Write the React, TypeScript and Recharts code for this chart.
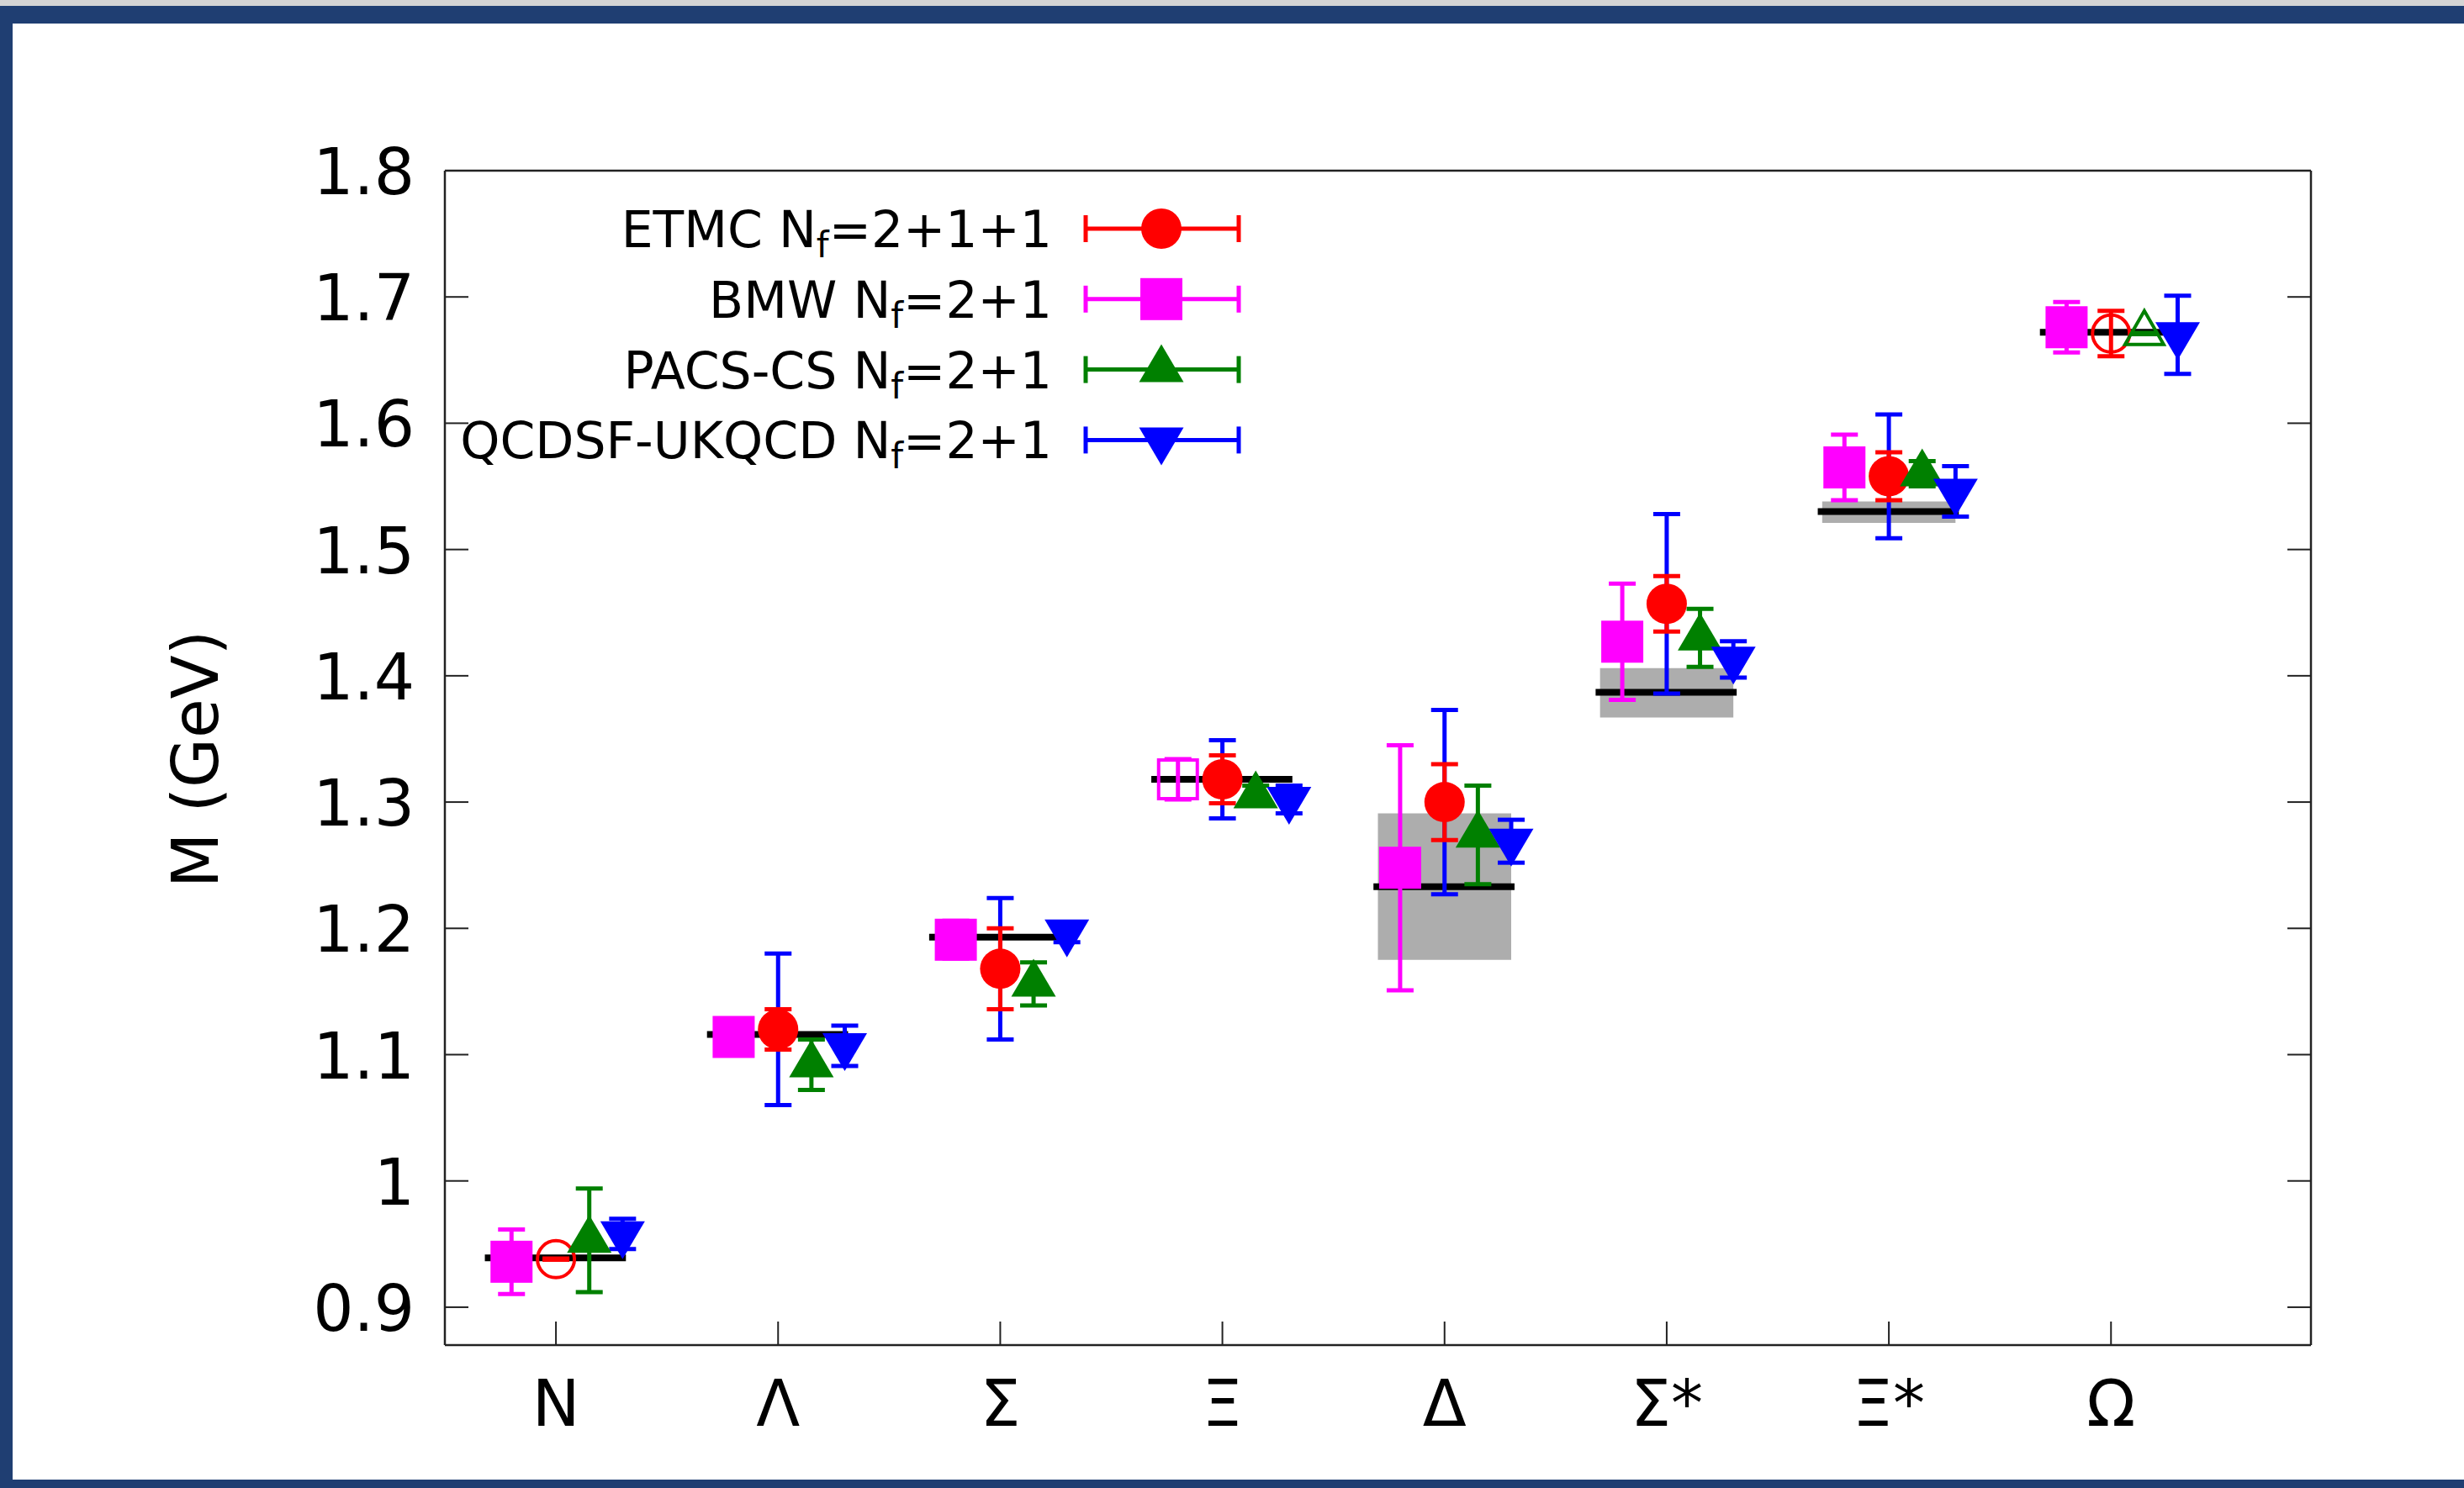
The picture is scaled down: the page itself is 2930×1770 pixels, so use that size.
import React from 'react';
import { ComposedChart, Scatter, XAxis, YAxis, ErrorBar, ReferenceLine, ReferenceArea, Legend } from 'recharts';

// ---------- data ----------
const categories = ['N', 'Λ', 'Σ', 'Ξ', 'Δ', 'Σ*', 'Ξ*', 'Ω'];
const yTicks = [0.9, 1.0, 1.1, 1.2, 1.3, 1.4, 1.5, 1.6, 1.7, 1.8];

const experiment = [0.939, 1.116, 1.193, 1.318, 1.233, 1.387, 1.530, 1.672];
const bandLow = [null, null, null, null, 1.175, 1.367, 1.521, null];
const bandHigh = [null, null, null, null, 1.291, 1.406, 1.538, null];

const etmcMass = [0.938, 1.120, 1.168, 1.318, 1.300, 1.457, 1.558, 1.671];
const etmcStat = [0.0005, 0.016, 0.032, 0.019, 0.030, 0.022, 0.019, 0.018];
const etmcTotal = [null, 0.060, 0.056, 0.031, 0.073, 0.071, 0.049, null];
const etmcOpen = [true, false, false, false, false, false, false, true];

const bmwMass = [0.936, 1.114, 1.191, 1.318, 1.248, 1.427, 1.565, 1.676];
const bmwErr = [0.0255, 0.010, 0.015, 0.016, 0.097, 0.046, 0.026, 0.020];
const bmwOpen = [false, false, false, true, false, false, false, false];

const pacsMass = [0.953, 1.092, 1.156, 1.305, 1.274, 1.430, 1.560, 1.671];
const pacsErr = [0.041, 0.020, 0.017, 0.008, 0.039, 0.023, 0.010, 0.0005];
const pacsOpen = [false, false, false, false, false, false, false, true];

const qcdsfMass = [0.958, 1.107, 1.197, 1.302, 1.269, 1.413, 1.546, 1.670];
const qcdsfErr = [0.012, 0.016, 0.008, 0.011, 0.017, 0.0144, 0.020, 0.031];

// ---------- styling ----------
const W = 2930;
const H = 1770;
const FONT = '"DejaVu Sans", Verdana, sans-serif';
const BLUE_FRAME = '#1f3e72';
const RED = '#ff0000';
const MAGENTA = '#ff00ff';
const GREEN = '#008000';
const BLUE = '#0000ff';
const AXIS = '#222222';
const EB = 5;

const OFF = { etmc: 0, bmw: -0.2, pacs: 0.15, qcdsf: 0.3 };

const etmcData = categories.map((c, i) => ({ x: i + 1 + OFF.etmc, y: etmcMass[i], stat: etmcStat[i], total: etmcTotal[i], open: etmcOpen[i] }));
const bmwData = categories.map((c, i) => ({ x: i + 1 + OFF.bmw, y: bmwMass[i], err: bmwErr[i], open: bmwOpen[i] }));
const pacsData = categories.map((c, i) => ({ x: i + 1 + OFF.pacs, y: pacsMass[i], err: pacsErr[i], open: pacsOpen[i] }));
const qcdsfData = categories.map((c, i) => ({ x: i + 1 + OFF.qcdsf, y: qcdsfMass[i], err: qcdsfErr[i], open: false }));

type Kind = 'circle' | 'square' | 'up' | 'down';

function marker(kind: Kind, color: string, cx: number, cy: number, open: boolean) {
  const sw = 4;
  if (kind === 'circle') {
    return open
      ? <circle cx={cx} cy={cy} r={22} fill="none" stroke={color} strokeWidth={sw} />
      : <circle cx={cx} cy={cy} r={24} fill={color} />;
  }
  if (kind === 'square') {
    return open
      ? <rect x={cx - 23} y={cy - 23} width={46} height={46} fill="none" stroke={color} strokeWidth={sw} />
      : <rect x={cx - 25} y={cy - 25} width={50} height={50} fill={color} />;
  }
  if (kind === 'up') {
    const pts = open
      ? `${cx},${cy - 27} ${cx - 23},${cy + 13} ${cx + 23},${cy + 13}`
      : `${cx},${cy - 30} ${cx - 26.5},${cy + 15} ${cx + 26.5},${cy + 15}`;
    return open
      ? <polygon points={pts} fill="none" stroke={color} strokeWidth={sw} strokeLinejoin="miter" />
      : <polygon points={pts} fill={color} />;
  }
  const pts = `${cx},${cy + 30} ${cx - 26.5},${cy - 15} ${cx + 26.5},${cy - 15}`;
  return <polygon points={pts} fill={color} />;
}

const makeShape = (kind: Kind, color: string) => (props: any) => {
  const { cx, cy, payload } = props;
  if (cx == null || cy == null) return <g />;
  return marker(kind, color, cx, cy, !!(payload && payload.open));
};

// ---------- ticks ----------
const fmtY = (v: number) => String(Math.round(v * 10) / 10);

function BottomTick(props: any) {
  const { x, y, payload } = props;
  return (
    <g>
      <line x1={x} y1={y} x2={x} y2={y - 28} stroke={AXIS} strokeWidth={2} />
      <text x={x} y={y + 96} textAnchor="middle" fontSize={76} fontFamily={FONT} fill="#000">
        {categories[Math.round(payload.value) - 1]}
      </text>
    </g>
  );
}
function TopTick(props: any) {
  const { x, y } = props;
  return <line x1={x} y1={y} x2={x} y2={y + 28} stroke={AXIS} strokeWidth={2} />;
}
function LeftTick(props: any) {
  const { x, y, payload } = props;
  return (
    <g>
      <line x1={x} y1={y} x2={x + 28} y2={y} stroke={AXIS} strokeWidth={2} />
      <text x={x - 36} y={y + 28} textAnchor="end" fontSize={76} fontFamily={FONT} fill="#000">
        {fmtY(payload.value)}
      </text>
    </g>
  );
}
function RightTick(props: any) {
  const { x, y } = props;
  return <line x1={x} y1={y} x2={x - 28} y2={y} stroke={AXIS} strokeWidth={2} />;
}

// ---------- legend ----------
const legendRows: { name: string; nf: string; color: string; kind: Kind }[] = [
  { name: 'ETMC', nf: '2+1+1', color: RED, kind: 'circle' },
  { name: 'BMW', nf: '2+1', color: MAGENTA, kind: 'square' },
  { name: 'PACS-CS', nf: '2+1', color: GREEN, kind: 'up' },
  { name: 'QCDSF-UKQCD', nf: '2+1', color: BLUE, kind: 'down' },
];

function LegendContent() {
  return (
    <svg width={1500} height={620} style={{ overflow: 'visible' }}>
      {legendRows.map((r, k) => {
        const cy = 272 + k * 83.8;
        return (
          <g key={r.name}>
            <text x={1251} y={cy + 22} textAnchor="end" fontSize={60} fontFamily={FONT} fill="#000">
              {r.name} N<tspan dy={12} fontSize={42}>f</tspan><tspan dy={-12}>={r.nf}</tspan>
            </text>
            <line x1={1291} x2={1473} y1={cy} y2={cy} stroke={r.color} strokeWidth={EB} />
            <line x1={1291} x2={1291} y1={cy - 16} y2={cy + 16} stroke={r.color} strokeWidth={EB} />
            <line x1={1473} x2={1473} y1={cy - 16} y2={cy + 16} stroke={r.color} strokeWidth={EB} />
            {marker(r.kind, r.color, 1381, cy, false)}
          </g>
        );
      })}
    </svg>
  );
}

function YLabel() {
  return (
    <text x={232} y={903} transform="rotate(-90 232 903)" textAnchor="middle" dominantBaseline="central"
      fontSize={76} fontFamily={FONT} fill="#000">M (GeV)</text>
  );
}

export default function App() {
  const xTicks = categories.map((c, i) => i + 1);
  return (
    <div style={{ position: 'absolute', left: 0, top: 0, width: W, height: H, background: '#ffffff', overflow: 'hidden', fontFamily: FONT }}>
      <div style={{ position: 'absolute', left: 0, top: 0, width: W, height: 7, background: '#d4d4d4' }} />
      <div style={{ position: 'absolute', left: 0, top: 7, width: W, height: 21, background: BLUE_FRAME }} />
      <div style={{ position: 'absolute', left: 0, top: 7, width: 15, height: H, background: BLUE_FRAME }} />
      <div style={{ position: 'absolute', left: 0, top: 1760, width: W, height: 10, background: BLUE_FRAME }} />
      <div style={{ position: 'absolute', left: 0, top: 0 }}>
        <ComposedChart width={W} height={H} margin={{ top: 202, right: 181, bottom: 169, left: 528 }}>
          <XAxis xAxisId="x" type="number" dataKey="x" domain={[0.5, 8.9]} allowDataOverflow ticks={xTicks}
            orientation="bottom" height={1} tickSize={0} tickMargin={0} tickLine={false} interval={0}
            axisLine={{ stroke: AXIS, strokeWidth: 2.5 }} tick={<BottomTick />} />
          <XAxis xAxisId="xt" type="number" domain={[0.5, 8.9]} allowDataOverflow ticks={xTicks}
            orientation="top" height={1} tickSize={0} tickMargin={0} tickLine={false} interval={0}
            axisLine={{ stroke: AXIS, strokeWidth: 2.5 }} tick={<TopTick />} />
          <YAxis yAxisId="y" type="number" dataKey="y" domain={[0.87, 1.8]} allowDataOverflow ticks={yTicks}
            orientation="left" width={1} tickSize={0} tickMargin={0} tickLine={false} interval={0}
            axisLine={{ stroke: AXIS, strokeWidth: 2.5 }} tick={<LeftTick />}
            label={{ content: () => <YLabel /> }} />
          <YAxis yAxisId="yr" type="number" domain={[0.87, 1.8]} allowDataOverflow ticks={yTicks}
            orientation="right" width={1} tickSize={0} tickMargin={0} tickLine={false} interval={0}
            axisLine={{ stroke: AXIS, strokeWidth: 2.5 }} tick={<RightTick />} />

          {categories.map((c, i) =>
            bandLow[i] != null ? (
              <ReferenceArea key={'band' + c} xAxisId="x" yAxisId="y" x1={i + 1 - 0.3} x2={i + 1 + 0.3}
                y1={bandLow[i] as number} y2={bandHigh[i] as number} fill="#adadad" fillOpacity={1} stroke="none" ifOverflow="visible" />
            ) : null
          )}
          {categories.map((c, i) => (
            <ReferenceLine key={'exp' + c} xAxisId="x" yAxisId="y" ifOverflow="visible"
              segment={[{ x: i + 1 - 0.32, y: experiment[i] }, { x: i + 1 + 0.315, y: experiment[i] }]}
              stroke="#000" strokeWidth={8} />
          ))}

          <Scatter name="ETMC" xAxisId="x" yAxisId="y" data={etmcData} dataKey="y" isAnimationActive={false} shape={makeShape('circle', RED)}>
            <ErrorBar dataKey="total" direction="y" width={16} stroke={BLUE} strokeWidth={EB} isAnimationActive={false} />
            <ErrorBar dataKey="stat" direction="y" width={16} stroke={RED} strokeWidth={EB} isAnimationActive={false} />
          </Scatter>
          <Scatter name="BMW" xAxisId="x" yAxisId="y" data={bmwData} dataKey="y" isAnimationActive={false} shape={makeShape('square', MAGENTA)}>
            <ErrorBar dataKey="err" direction="y" width={16} stroke={MAGENTA} strokeWidth={EB} isAnimationActive={false} />
          </Scatter>
          <Scatter name="PACS-CS" xAxisId="x" yAxisId="y" data={pacsData} dataKey="y" isAnimationActive={false} shape={makeShape('up', GREEN)}>
            <ErrorBar dataKey="err" direction="y" width={16} stroke={GREEN} strokeWidth={EB} isAnimationActive={false} />
          </Scatter>
          <Scatter name="QCDSF-UKQCD" xAxisId="x" yAxisId="y" data={qcdsfData} dataKey="y" isAnimationActive={false} shape={makeShape('down', BLUE)}>
            <ErrorBar dataKey="err" direction="y" width={16} stroke={BLUE} strokeWidth={EB} isAnimationActive={false} />
          </Scatter>

          <Legend layout="vertical" align="center" verticalAlign="middle" content={() => <LegendContent />}
            wrapperStyle={{ left: 0, top: 0, width: 1500, height: 620 }} />
        </ComposedChart>
      </div>
    </div>
  );
}
